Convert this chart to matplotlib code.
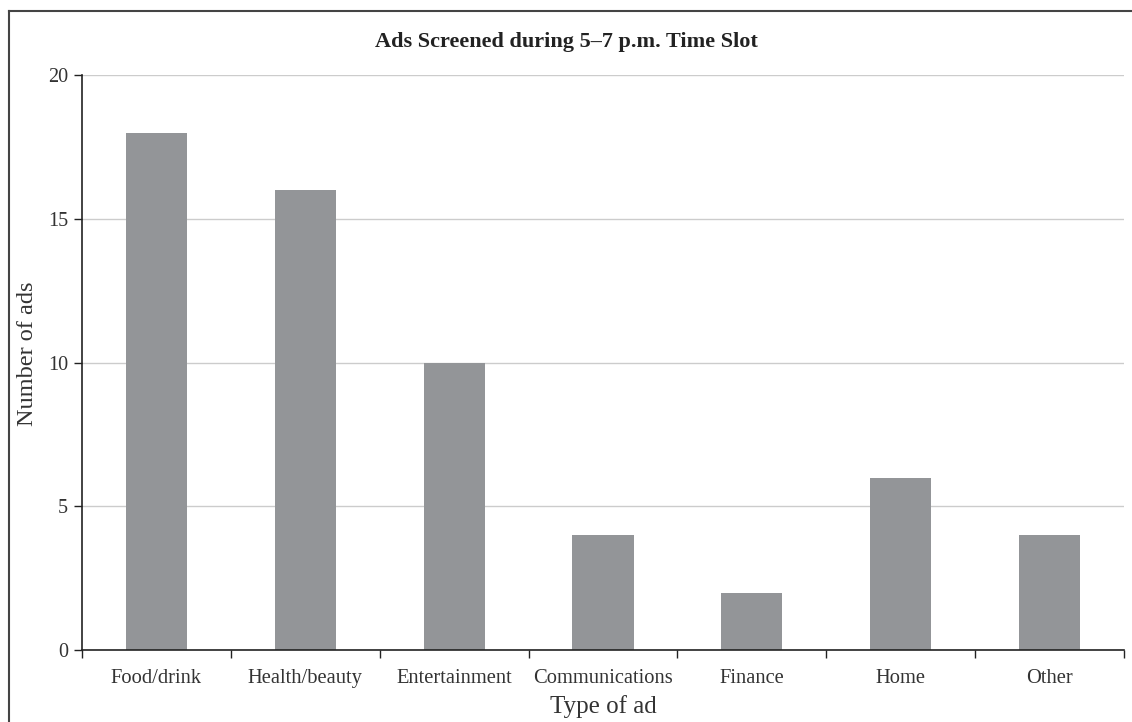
import numpy as np
import matplotlib.pyplot as plt
from matplotlib.lines import Line2D

# data
categories = ['Food/drink', 'Health/beauty', 'Entertainment', 'Communications',
              'Finance', 'Home', 'Other']
counts = [18, 16, 10, 4, 2, 6, 4]

plt.rcParams['font.family'] = ['Liberation Serif', 'DejaVu Serif']

W, H = 1132, 722
fig = plt.figure(figsize=(W / 100, H / 100), dpi=100)
ax = fig.add_axes([82 / W, 1 - 650 / H, (1124 - 82) / W, (650 - 75) / H])

x = np.arange(len(categories))
ax.bar(x, counts, width=0.41, color='#939598', zorder=2)

ax.set_xlim(-0.5, len(categories) - 0.5)
ax.set_ylim(0, 20)
ax.set_yticks([0, 5, 10, 15, 20])
ax.yaxis.grid(True, color='#cccccc', linewidth=1, zorder=0)
ax.set_axisbelow(True)

ax.set_xticks(x)
ax.set_xticklabels(categories, fontsize=14.8, color='#333333')
ax.set_xticks(np.arange(len(categories) + 1) - 0.5, minor=True)
ax.tick_params(axis='x', which='major', length=0, pad=14)
ax.tick_params(axis='x', which='minor', length=6, width=1, direction='out', color='#222222')
ax.tick_params(axis='y', length=6, width=1, color='#222222', labelsize=14.5, labelcolor='#333333', pad=4)

for s in ['top', 'right']:
    ax.spines[s].set_visible(False)
for s in ['left', 'bottom']:
    ax.spines[s].set_color('#222222')
    ax.spines[s].set_linewidth(1.2)

ax.set_xlabel('Type of ad', fontsize=18, color='#333333', labelpad=5)
ax.set_ylabel('Number of ads', fontsize=17.5, color='#333333')
ax.yaxis.set_label_coords(-0.042, 0.515)

fig.text(0.5, 1 - 42 / H, 'Ads Screened during 5\u20137 p.m. Time Slot', ha='center', va='center',
         fontsize=16, fontweight='bold', color='#222222')

# frame (runs off the right and bottom of the image)
fig.add_artist(Line2D([9 / W, 1.0], [1 - 11 / H, 1 - 11 / H], color='#444444', linewidth=1.5))
fig.add_artist(Line2D([9 / W, 9 / W], [0.0, 1 - 11 / H], color='#444444', linewidth=1.5))

fig.savefig('out.png', dpi=100)
